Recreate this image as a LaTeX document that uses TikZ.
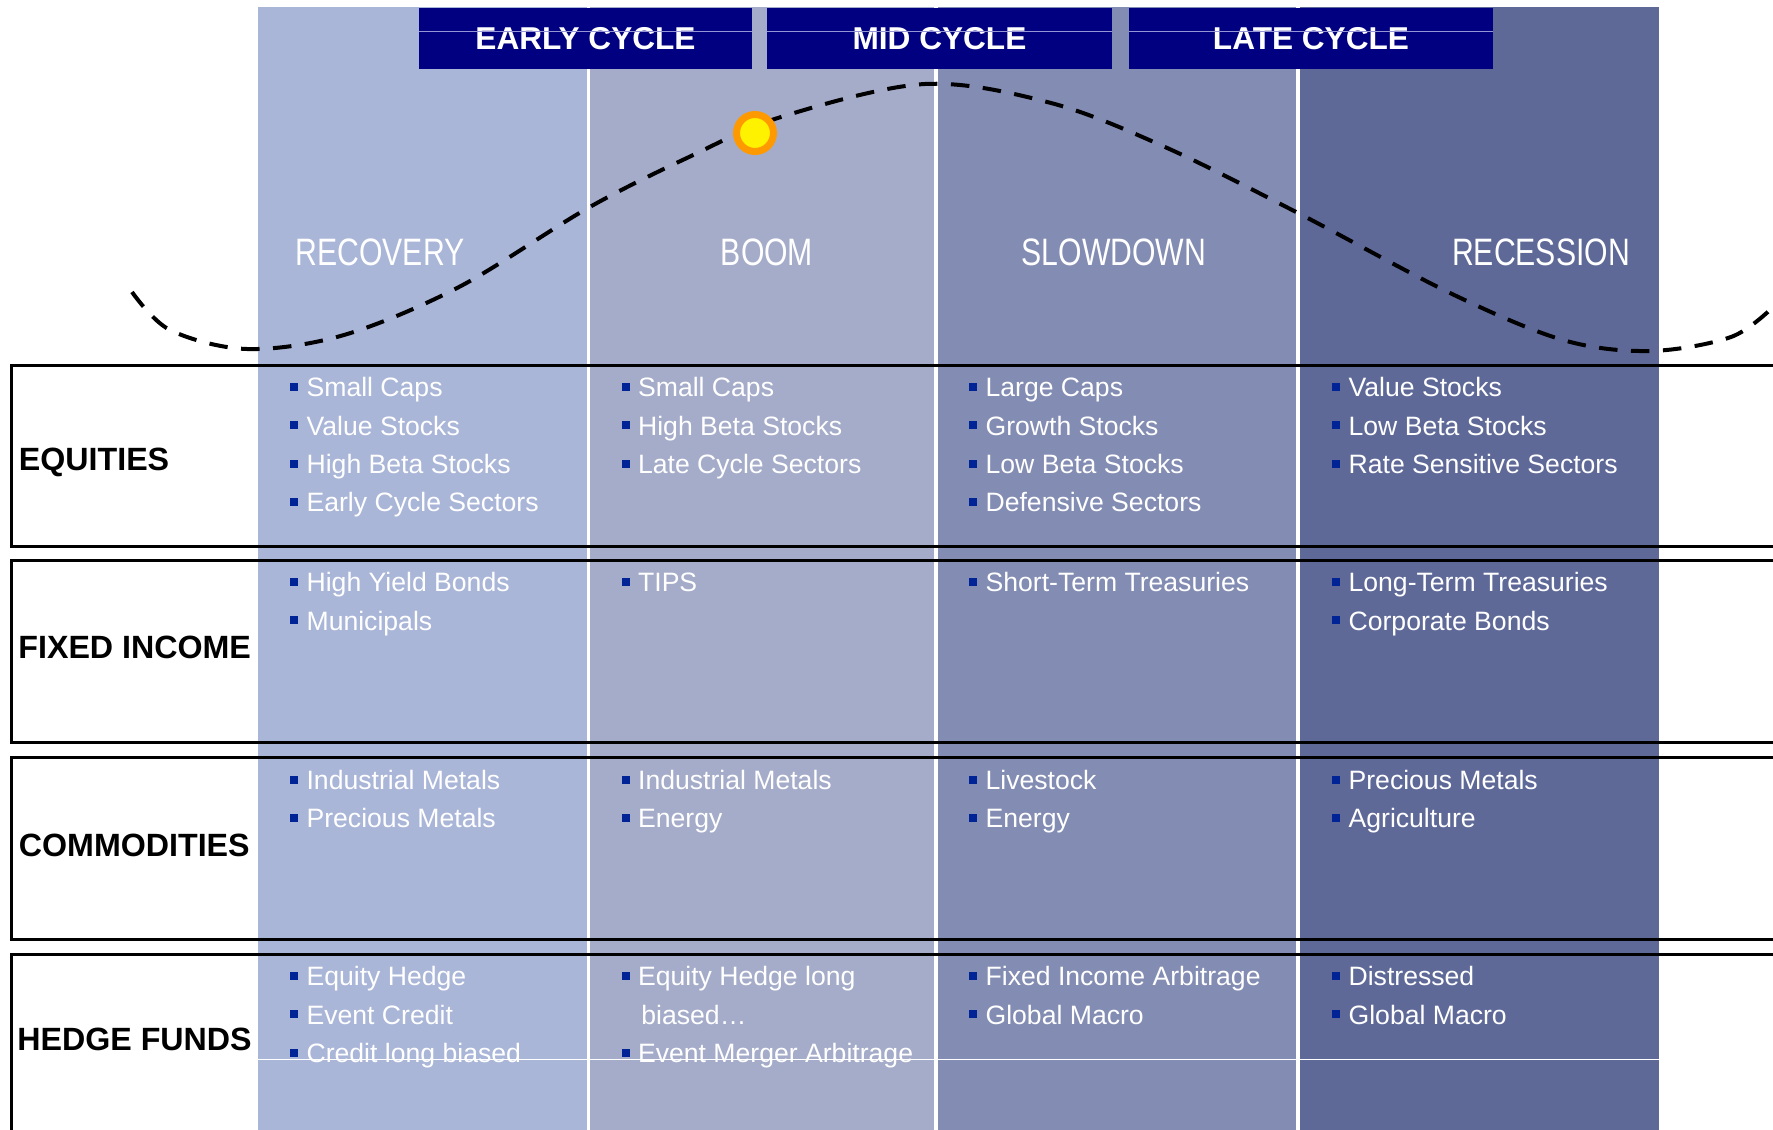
\documentclass[tikz,border=0pt]{standalone}
\usepackage{fontspec}
\setmainfont{Liberation Sans}
\newfontfamily\narrowsans[FakeStretch=0.79]{Liberation Sans}
\definecolor{recov}{RGB}{170,182,216}
\definecolor{boomc}{RGB}{165,172,201}
\definecolor{slowc}{RGB}{131,140,178}
\definecolor{recess}{RGB}{94,105,152}
\definecolor{navyhead}{RGB}{0,0,128}
\definecolor{bulnavy}{RGB}{0,35,150}
\definecolor{headline}{RGB}{150,150,215}
\definecolor{dotring}{RGB}{255,153,0}
\newcommand{\bul}{\textcolor{bulnavy}{\rule[2.9pt]{3.9pt}{3.9pt}}\hspace{4.2pt}}
\tikzset{
	cyclebox/.style={fill=navyhead, text=white, inner sep=0pt, minimum height=30.5pt, font=\bfseries\fontsize{15.8}{18}\selectfont},
	phase/.style={anchor=base, text=white, inner sep=0pt, font=\narrowsans\fontsize{19.1}{22}\selectfont},
	assetlabel/.style={anchor=base west, inner sep=0pt, font=\bfseries\fontsize{16.1}{18}\selectfont},
	itm/.style={anchor=base west, inner sep=0pt, text=white, font=\fontsize{13.3}{16}\selectfont},
	rowbox/.style={draw=black, line width=1.5pt},
}
\begin{document}
\begin{tikzpicture}[x=0.5pt, y=-0.5pt]
		\useasboundingbox (0,0) rectangle (1773,1130);
		\clip (0,0) rectangle (1773,1130);
		\fill[recov] (258,7) rectangle (587,1130);
		\fill[boomc] (590,7) rectangle (934,1130);
		\fill[slowc] (938,7) rectangle (1296,1130);
		\fill[recess] (1300,7) rectangle (1659,1130);

		\path
		node[cyclebox, minimum width=166.5pt] at (585.5,38.5) (early) {EARLY CYCLE}
		node[cyclebox, minimum width=172.5pt] at (939.5,38.5) (mid) {MID CYCLE}
		node[cyclebox, minimum width=182pt] at (1311,38.5) (late) {LATE CYCLE};
		\draw[headline, line width=0.5pt] ([yshift=3.6pt]early.west) -- ([yshift=3.6pt]early.east);
		\draw[headline, line width=0.5pt] ([yshift=3.6pt]mid.west) -- ([yshift=3.6pt]mid.east);
		\draw[headline, line width=0.5pt] ([yshift=3.6pt]late.west) -- ([yshift=3.6pt]late.east);

		\draw[line width=2pt, dash pattern=on 9.25pt off 6.75pt]
		plot[smooth, tension=0.55] coordinates {(132,292) (170,330) (247,349) (344,335) (459,287) (588,208) (689,157) (781,117) (925,84) (1051,103) (1165,147) (1298,213) (1450,293) (1563,340) (1650,351) (1731,337) (1773,307)};
		\node[circle, draw=dotring, fill=yellow, line width=3.5pt, minimum size=18.5pt, inner sep=0pt] at (755,133) (peak) {};

		\path
		node[phase] at (380,265.5) (rec) {RECOVERY}
		node[phase] at (767,265.5) (boom) {BOOM}
		node[phase] at (1114,265.5) (slow) {SLOWDOWN}
		node[phase] at (1541,265.5) (recn) {RECESSION};

		\draw[rowbox] (11,365) rectangle (1800,546.5);
		\draw[rowbox] (11,560.5) rectangle (1800,742);
		\draw[rowbox] (11,757.5) rectangle (1800,939);
		\draw[rowbox] (11,954.5) rectangle (1800,1140);

		\path
		node[assetlabel] at (18.5,470) (equ) {EQUITIES}
		node[assetlabel] at (18,658.3) (fix) {FIXED INCOME}
		node[assetlabel] at (18.5,856.7) (com) {COMMODITIES}
		node[assetlabel] at (17,1050) (hed) {HEDGE FUNDS};

		\path
		node[itm] at (290,396.7) (equrec1) {\bul Small Caps}
		node[itm] at (290,435) (equrec2) {\bul Value Stocks}
		node[itm] at (290,473.3) (equrec3) {\bul High Beta Stocks}
		node[itm] at (290,511.6) (equrec4) {\bul Early Cycle Sectors}
		node[itm] at (621.5,396.7) (equboo1) {\bul Small Caps}
		node[itm] at (621.5,435) (equboo2) {\bul High Beta Stocks}
		node[itm] at (621.5,473.3) (equboo3) {\bul Late Cycle Sectors}
		node[itm] at (969,396.7) (equslo1) {\bul Large Caps}
		node[itm] at (969,435) (equslo2) {\bul Growth Stocks}
		node[itm] at (969,473.3) (equslo3) {\bul Low Beta Stocks}
		node[itm] at (969,511.6) (equslo4) {\bul Defensive Sectors}
		node[itm] at (1332,396.7) (equrcn1) {\bul Value Stocks}
		node[itm] at (1332,435) (equrcn2) {\bul Low Beta Stocks}
		node[itm] at (1332,473.3) (equrcn3) {\bul Rate Sensitive Sectors};

		\path
		node[itm] at (290,591.7) (fixrec1) {\bul High Yield Bonds}
		node[itm] at (290,630) (fixrec2) {\bul Municipals}
		node[itm] at (621.5,591.7) (fixboo1) {\bul TIPS}
		node[itm] at (969,591.7) (fixslo1) {\bul Short-Term Treasuries}
		node[itm] at (1332,591.7) (fixrcn1) {\bul Long-Term Treasuries}
		node[itm] at (1332,630) (fixrcn2) {\bul Corporate Bonds};

		\path
		node[itm] at (290,789.3) (comrec1) {\bul Industrial Metals}
		node[itm] at (290,827.6) (comrec2) {\bul Precious Metals}
		node[itm] at (621.5,789.3) (comboo1) {\bul Industrial Metals}
		node[itm] at (621.5,827.6) (comboo2) {\bul Energy}
		node[itm] at (969,789.3) (comslo1) {\bul Livestock}
		node[itm] at (969,827.6) (comslo2) {\bul Energy}
		node[itm] at (1332,789.3) (comrcn1) {\bul Precious Metals}
		node[itm] at (1332,827.6) (comrcn2) {\bul Agriculture};

		\path
		node[itm] at (290,985.7) (hedrec1) {\bul Equity Hedge}
		node[itm] at (290,1024) (hedrec2) {\bul Event Credit}
		node[itm] at (290,1062.3) (hedrec3) {\bul Credit long biased}
		node[itm] at (621.5,985.7) (hedboo1) {\bul Equity Hedge long}
		node[itm] at (641,1024) (hedboo2) {biased…}
		node[itm] at (621.5,1062.3) (hedboo3) {\bul Event Merger Arbitrage}
		node[itm] at (969,985.7) (hedslo1) {\bul Fixed Income Arbitrage}
		node[itm] at (969,1024) (hedslo2) {\bul Global Macro}
		node[itm] at (1332,985.7) (hedrcn1) {\bul Distressed}
		node[itm] at (1332,1024) (hedrcn2) {\bul Global Macro};
		\draw[white, line width=0.5pt] (258,1059) -- (1659,1059);
\end{tikzpicture}
\end{document}
